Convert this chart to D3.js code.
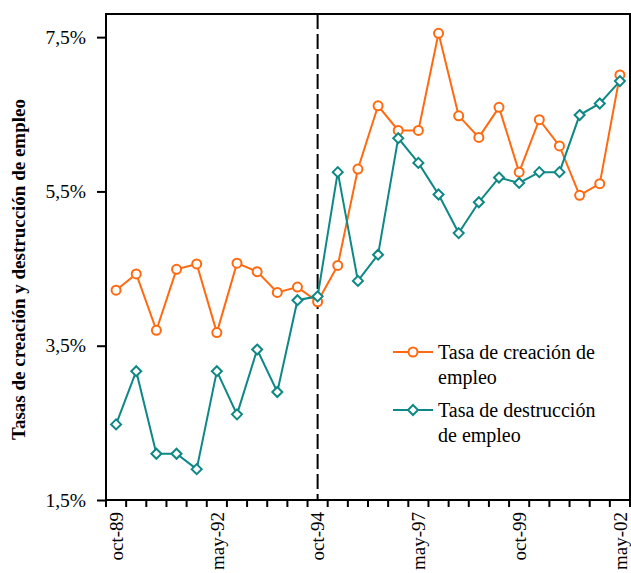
<!DOCTYPE html>
<html>
<head>
<meta charset="utf-8">
<script src="https://cdn.jsdelivr.net/npm/d3@7/dist/d3.min.js"></script>
<style>
  html, body { margin: 0; padding: 0; background: #fff; }
  svg { display: block; }
</style>
</head>
<body>
<svg id="chart" width="631" height="573"></svg>
<script>
// Semiannual periods, October 1989 to May 2002
const periods = [
  "oct-89","may-90","oct-90","may-91","oct-91","may-92","oct-92","may-93","oct-93",
  "may-94","oct-94","may-95","oct-95","may-96","oct-96","may-97","oct-97","may-98",
  "oct-98","may-99","oct-99","may-00","oct-00","may-01","oct-01","may-02"
];
// Job creation rate (%)
const creacion = [
  4.22, 4.43, 3.70, 4.49, 4.56, 3.67, 4.57, 4.46, 4.19, 4.26, 4.07, 4.54, 5.79,
  6.61, 6.29, 6.29, 7.55, 6.48, 6.20, 6.59, 5.75, 6.43, 6.09, 5.45, 5.60, 7.01
];
// Job destruction rate (%)
const destruccion = [
  2.48, 3.17, 2.10, 2.10, 1.90, 3.17, 2.61, 3.45, 2.90, 4.09, 4.14, 5.75, 4.34,
  4.68, 6.19, 5.87, 5.46, 4.96, 5.36, 5.68, 5.61, 5.75, 5.75, 6.49, 6.64, 6.93
];
const labeledPeriods = ["oct-89","may-92","oct-94","may-97","oct-99","may-02"];
const yTicks = [1.5, 3.5, 5.5, 7.5];
const markerPeriod = "oct-94";
const seriesNames = ["Tasa de creación de|empleo", "Tasa de destrucción|de empleo"];
const yTitle = "Tasas de creación y destrucción de empleo";

const colorCre = "#FF6A10";
const colorDes = "#0E8884";
const serif = "'Liberation Serif', 'Times New Roman', 'DejaVu Serif', serif";

const svg = d3.select("#chart");
const L = 106, R = 630, T = 14, B = 500;

const x = d3.scaleBand().domain(periods).range([L, R]).paddingInner(0).paddingOuter(0);
const y = d3.scaleLinear().domain([1.5, 7.8]).range([B, T]);
const cx = p => x(p) + x.bandwidth() / 2;

// Frame
svg.append("rect")
  .attr("x", L).attr("y", T).attr("width", R - L).attr("height", B - T)
  .attr("fill", "none").attr("stroke", "#000").attr("stroke-width", 2);

// Y axis
const yAxis = d3.axisLeft(y).tickValues(yTicks).tickSize(9).tickPadding(11)
  .tickFormat(d => d3.format(".1f")(d).replace(".", ",") + "%");
const gy = svg.append("g").attr("transform", `translate(${L},0)`).call(yAxis)
  .attr("font-family", serif);
gy.select(".domain").remove();
gy.selectAll(".tick line").attr("stroke", "#000").attr("stroke-width", 2);
gy.selectAll(".tick text").style("font-size", "19.5px")
  .style("font-family", serif).attr("fill", "#000");

// X axis: ticks at band boundaries
const boundaries = periods.map(p => x(p)).concat([R]);
svg.append("g").selectAll("line").data(boundaries).join("line")
  .attr("x1", d => d).attr("x2", d => d)
  .attr("y1", B).attr("y2", B + 7)
  .attr("stroke", "#000").attr("stroke-width", 2);

svg.append("g").selectAll("text").data(labeledPeriods).join("text")
  .attr("transform", d => `translate(${cx(d)},${B + 12}) rotate(-90)`)
  .attr("text-anchor", "end")
  .attr("dy", "0.35em")
  .style("font-family", serif)
  .style("font-size", "19px")
  .text(d => d);

// Y title
svg.append("text")
  .attr("transform", `translate(25,${(97 + 442) / 2}) rotate(-90)`)
  .attr("text-anchor", "middle")
  .style("font-family", serif)
  .style("font-size", "19px").style("font-weight", "bold")
  .text(yTitle);

// Vertical dashed reference line
svg.append("line")
  .attr("x1", cx(markerPeriod)).attr("x2", cx(markerPeriod))
  .attr("y1", T).attr("y2", B)
  .attr("stroke", "#000").attr("stroke-width", 2)
  .attr("stroke-dasharray", "15,5");

// Series lines
const line = d3.line().x((d, i) => cx(periods[i])).y(d => y(d));
svg.append("path").datum(creacion).attr("d", line)
  .attr("fill", "none").attr("stroke", colorCre).attr("stroke-width", 2);
svg.append("path").datum(destruccion).attr("d", line)
  .attr("fill", "none").attr("stroke", colorDes).attr("stroke-width", 2);

// Markers
const diamond = "M0,-5L5,0L0,5L-5,0Z";
svg.append("g").selectAll("circle").data(creacion).join("circle")
  .attr("cx", (d, i) => cx(periods[i])).attr("cy", d => y(d)).attr("r", 4.5)
  .attr("fill", "#fff").attr("stroke", colorCre).attr("stroke-width", 2);
svg.append("g").selectAll("path").data(destruccion).join("path")
  .attr("transform", (d, i) => `translate(${cx(periods[i])},${y(d)})`)
  .attr("d", diamond)
  .attr("fill", "#fff").attr("stroke", colorDes).attr("stroke-width", 2);

// Legend
const leg = svg.append("g");
const legRows = [
  { name: seriesNames[0], color: colorCre, y: 352, marker: "circle" },
  { name: seriesNames[1], color: colorDes, y: 410, marker: "diamond" }
];
legRows.forEach(r => {
  leg.append("line").attr("x1", 393).attr("x2", 433).attr("y1", r.y).attr("y2", r.y)
    .attr("stroke", r.color).attr("stroke-width", 2);
  if (r.marker === "circle") {
    leg.append("circle").attr("cx", 413).attr("cy", r.y).attr("r", 4.5)
      .attr("fill", "#fff").attr("stroke", r.color).attr("stroke-width", 2);
  } else {
    leg.append("path").attr("transform", `translate(413,${r.y})`).attr("d", diamond)
      .attr("fill", "#fff").attr("stroke", r.color).attr("stroke-width", 2);
  }
  const t = leg.append("text").attr("x", 438).attr("y", r.y + 6.5)
    .style("font-family", serif).style("font-size", "20px");
  r.name.split("|").forEach((s, k) => {
    t.append("tspan").attr("x", 438).attr("dy", k === 0 ? 0 : 25).text(s);
  });
});
</script>
</body>
</html>
